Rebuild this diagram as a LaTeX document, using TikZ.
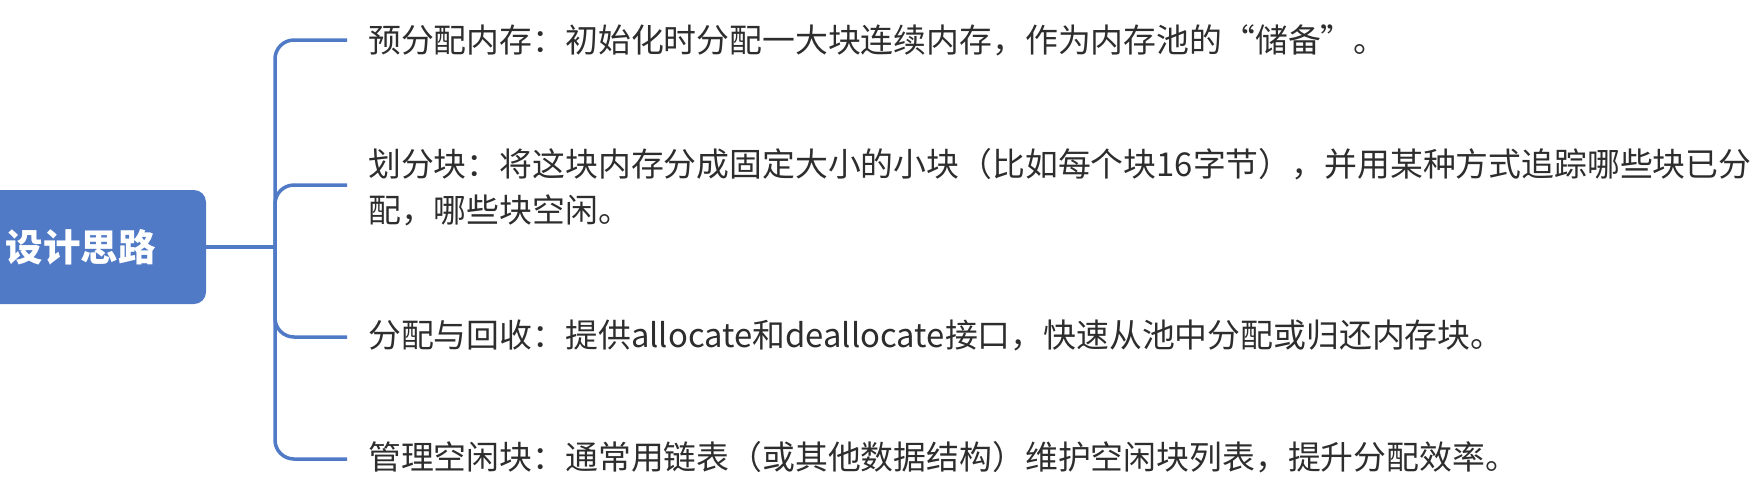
\documentclass[tikz,border=0pt]{standalone}
\usepackage{fontspec}
\setmainfont{Noto Sans CJK SC}
\usepackage{tikz}
\definecolor{mapblue}{RGB}{80,121,198}
\definecolor{maptext}{RGB}{45,45,45}
\tikzstyle{topic} = [rectangle, rounded corners=12pt, minimum width=251pt, minimum height=114pt, fill=mapblue, text=white, font=\fontsize{37.5}{44}\selectfont\bfseries, inner sep=0pt]
\tikzstyle{leaf} = [anchor=west, inner xsep=21pt, inner ysep=0pt, text=maptext, align=left, font=\fontsize{32.85}{46}\selectfont]
\tikzstyle{branch} = [draw=mapblue, line width=3.5pt, rounded corners=19pt]

\begin{document}
\begin{tikzpicture}[x=1pt, y=-1pt]
\useasboundingbox (0,0) rectangle (1763,491);
\clip (0,0) rectangle (1763,491);

\node (root) [topic] at (80.5,247) {设计思路};
\coordinate (hub) at (275,247);

\node (pre) [leaf] at (347,40) {预分配内存：初始化时分配一大块连续内存，作为内存池的“储备”。};
\node (split) [leaf] at (347,187) {划分块：将这块内存分成固定大小的小块（比如每个块16字节），并用某种方式追踪哪些块已分\\配，哪些块空闲。};
\node (alloc) [leaf] at (347,335) {分配与回收：提供allocate和deallocate接口，快速从池中分配或归还内存块。};
\node (free) [leaf] at (347,457) {管理空闲块：通常用链表（或其他数据结构）维护空闲块列表，提升分配效率。};

\draw [branch] (root.east) -- (hub);
\draw [branch] (hub) |- (pre.west);
\draw [branch] (hub) |- ([yshift=2pt]split.west);
\draw [branch] (hub) |- ([yshift=-2pt]alloc.west);
\draw [branch] (hub) |- ([yshift=-2pt]free.west);

\end{tikzpicture}
\end{document}
